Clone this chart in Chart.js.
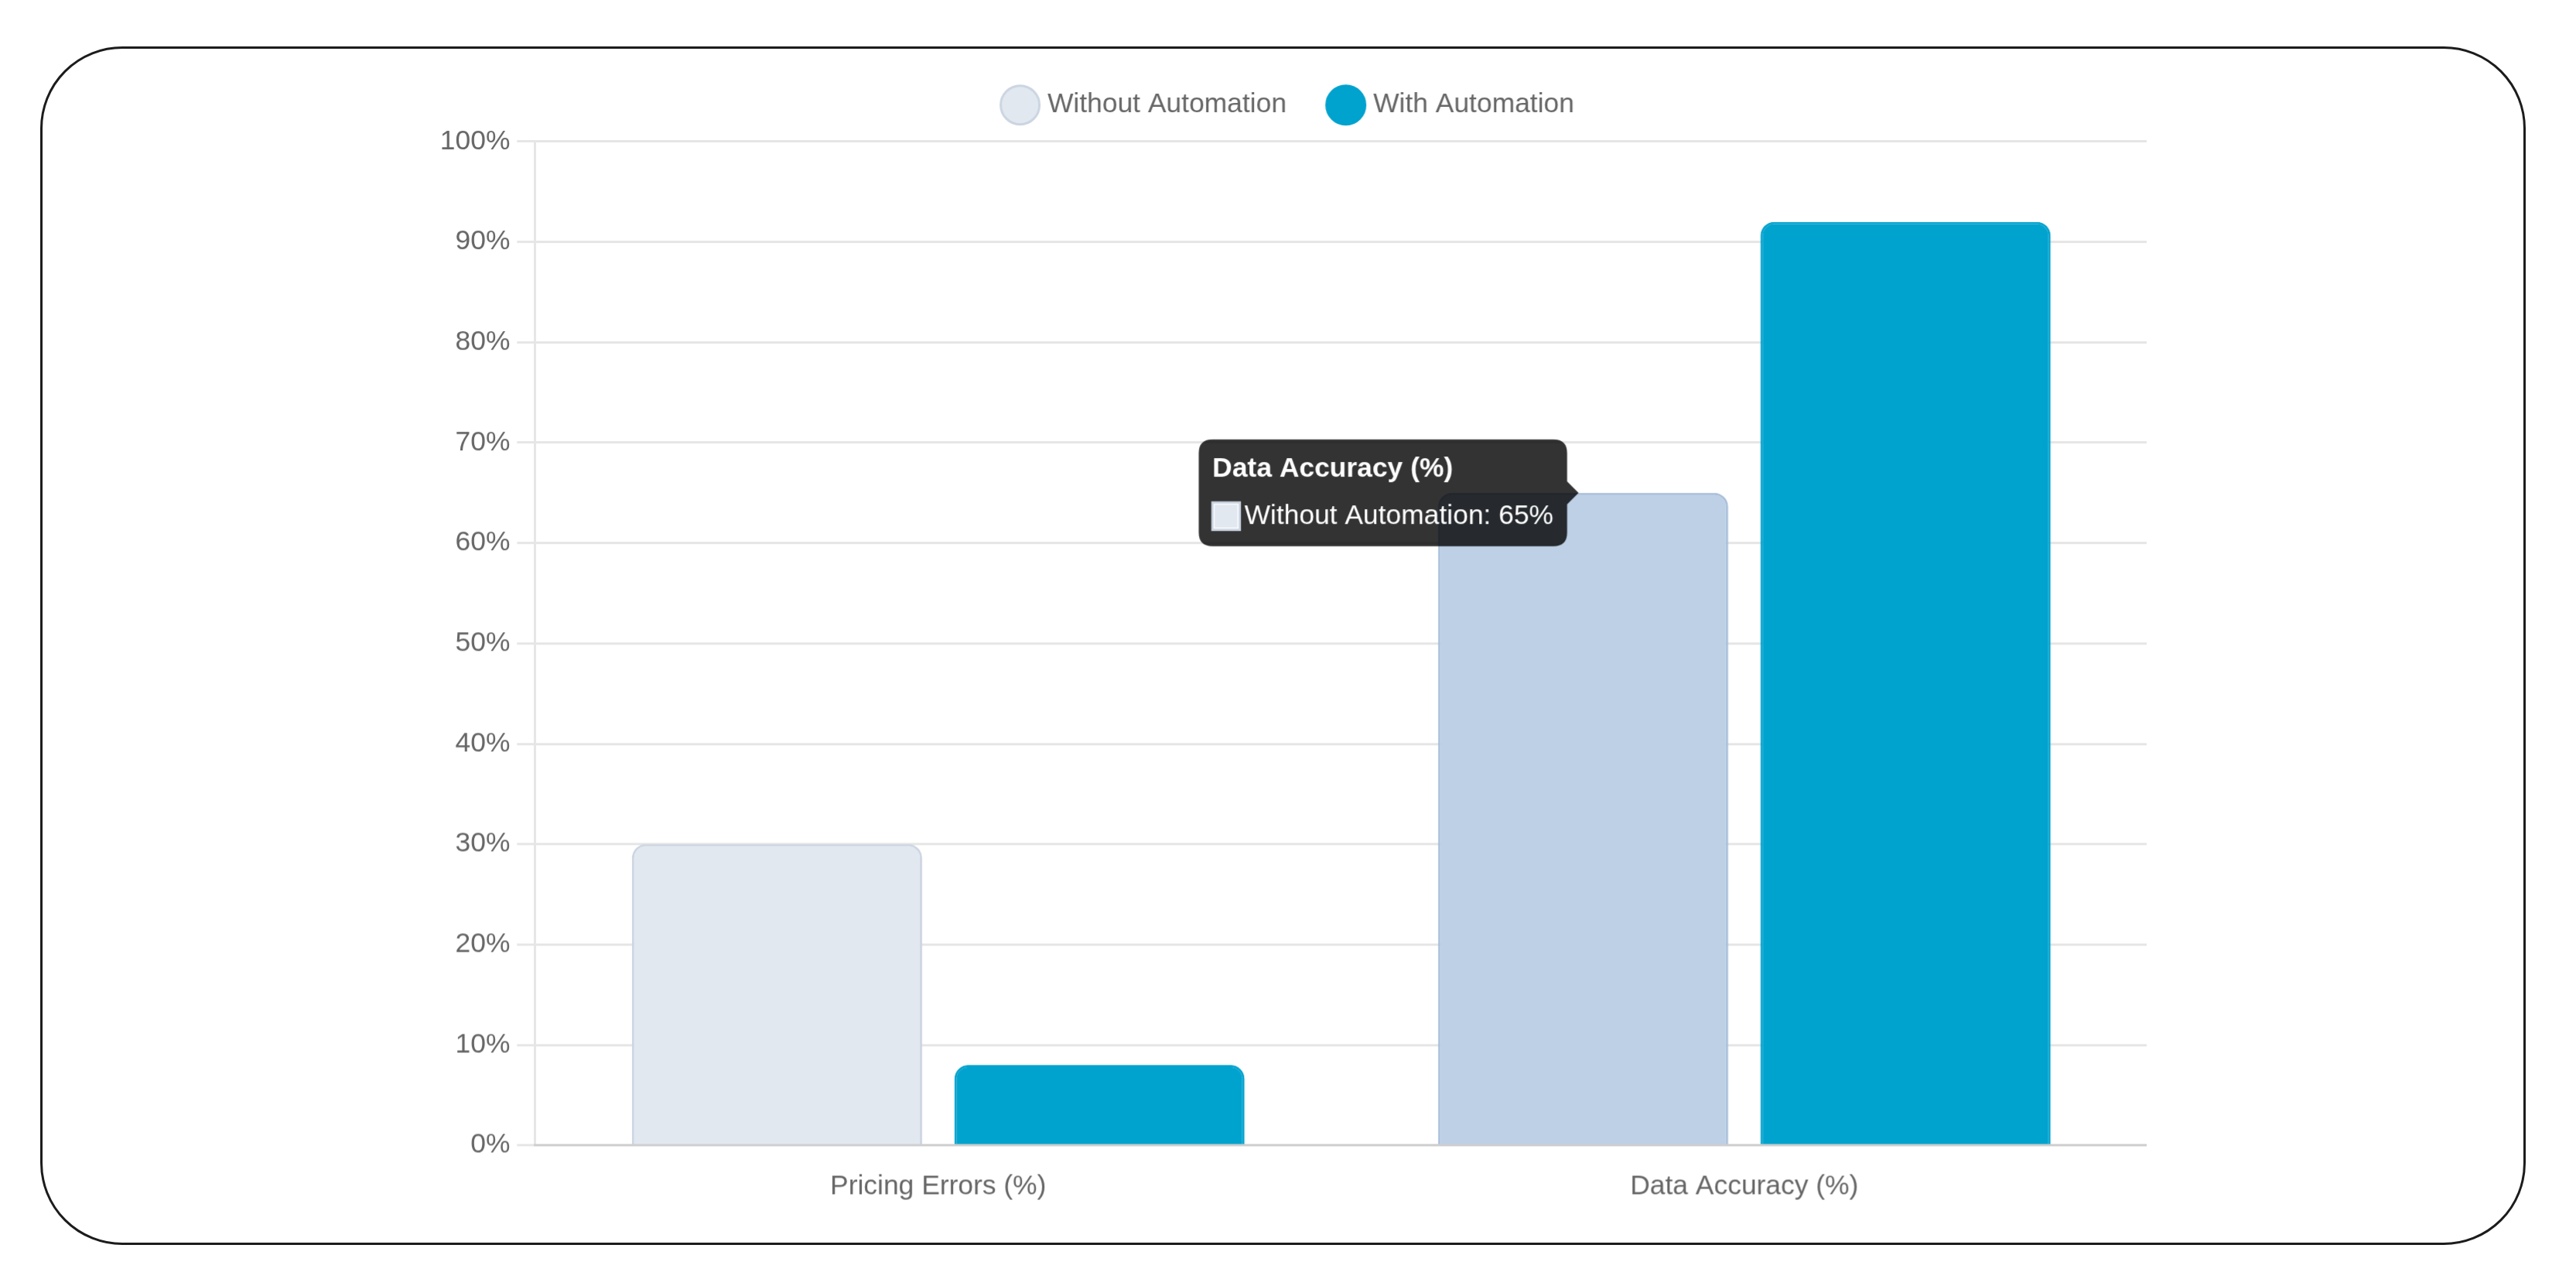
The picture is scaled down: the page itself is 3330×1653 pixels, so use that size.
<!DOCTYPE html>
<html>
<head>
<meta charset="utf-8">
<title>Without vs With Automation</title>
<script src="https://cdn.jsdelivr.net/npm/chart.js@4.4.1/dist/chart.umd.min.js"></script>
<style>
  html, body { margin: 0; padding: 0; background: #fff; }
  body { width: 3330px; height: 1653px; position: relative; overflow: hidden; }
  .card {
    position: absolute; left: 52px; top: 60px; width: 3213px; height: 1549px;
    border: 3px solid #1c1c1c; border-radius: 106px; box-sizing: border-box;
  }
  /* chart is laid out at normal size and blown up, like the original screenshot */
  .chart-wrap {
    position: absolute; left: 560px; top: 59px;
    transform: scale(2.95); transform-origin: 0 0;
  }
</style>
</head>
<body>
<div class="card"></div>
<div class="chart-wrap"><canvas id="chart" width="751" height="510"></canvas></div>
<script>
const SCALE = 2.95;

const categories = ['Pricing Errors (%)', 'Data Accuracy (%)'];
const withoutAutomation = [30, 65];
const withAutomation = [8, 92];

Chart.defaults.font.family = "'Liberation Sans', Arial, sans-serif";

const context = document.getElementById('chart').getContext('2d');

const data = {
    labels: categories,
    datasets: [{
        label: 'Without Automation',
        data: withoutAutomation,
        backgroundColor: '#e2e8f0',
        borderColor: '#cbd5e1',
        borderWidth: 1,
        borderRadius: 6
    }, {
        label: 'With Automation',
        data: withAutomation,
        backgroundColor: '#00a2ce',
        borderColor: '#00a2ce',
        borderWidth: 1,
        borderRadius: 6
    }]
};

const config = {
    type: 'bar',
    data: data,
    options: {
        // fixed size: a responsive chart would measure the scaled box
        responsive: false,
        devicePixelRatio: SCALE,
        animation: false,
        events: [],
        scales: {
            y: {
                min: 0,
                max: 100,
                ticks: {
                    stepSize: 10,
                    callback: (value) => value + '%'
                }
            },
            x: {
                grid: {
                    display: false
                }
            }
        },
        plugins: {
            legend: {
                labels: {
                    usePointStyle: true,
                    pointStyle: 'circle',
                    padding: 20
                }
            },
            tooltip: {
                callbacks: {
                    label: (ctx) => ctx.dataset.label + ': ' + ctx.parsed.y + '%'
                }
            }
        }
    }
};

const chart = new Chart(context, config);

// the reference shows the hover state on "Data Accuracy", Without Automation
const hovered = [{ datasetIndex: 0, index: 1 }];
chart.setActiveElements(hovered);
chart.tooltip.setActiveElements(hovered, { x: 0, y: 0 });
chart.update();
</script>
</body>
</html>
